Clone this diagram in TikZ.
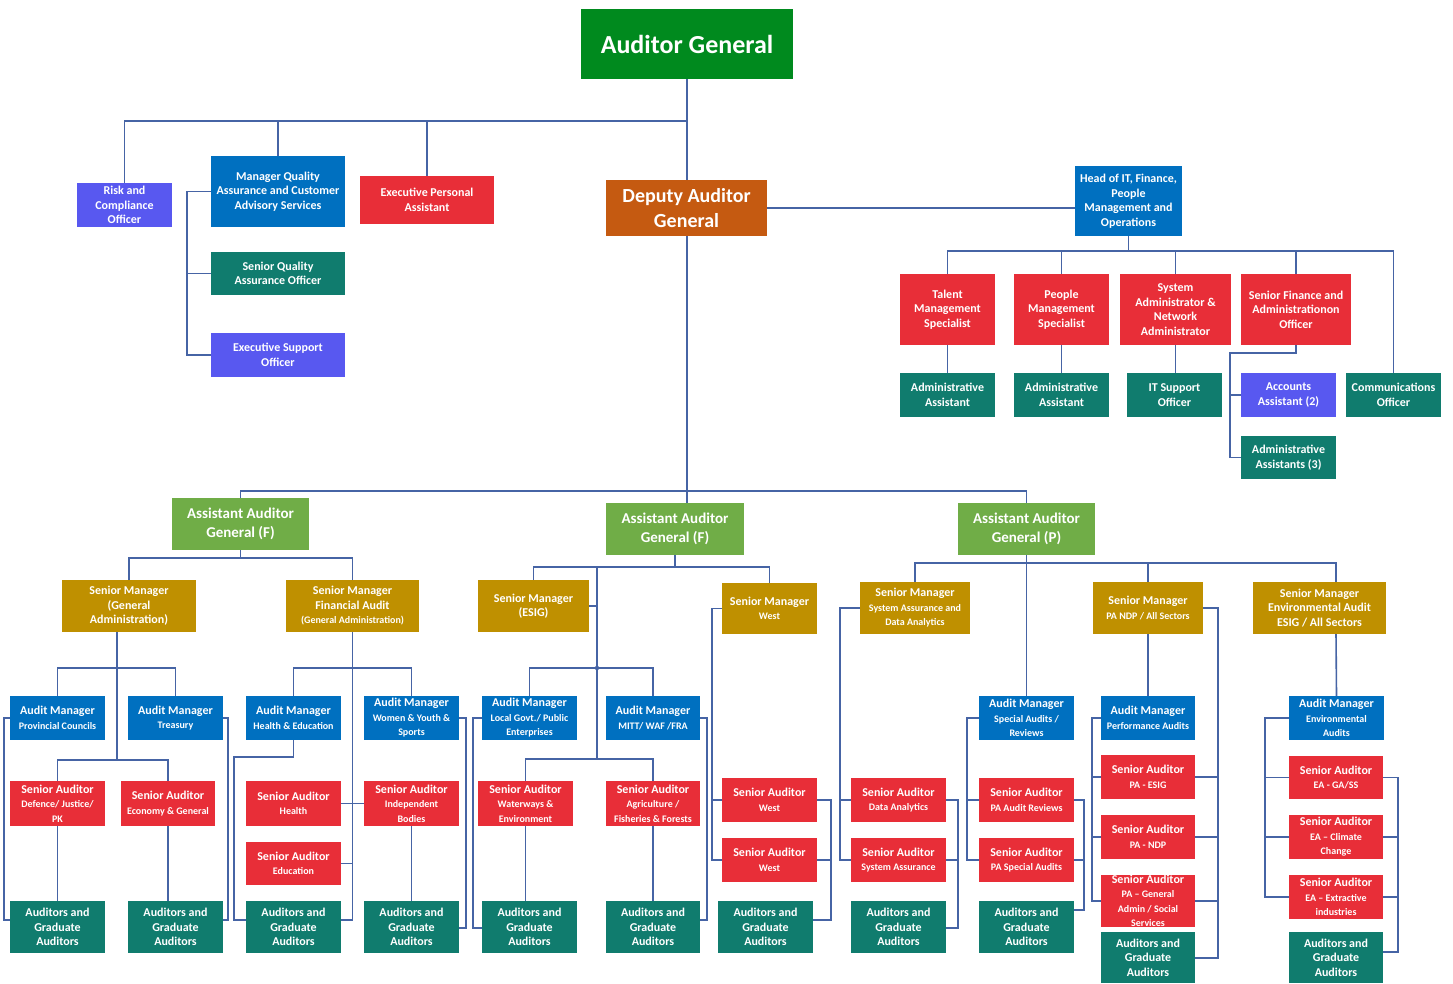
\documentclass[tikz,border=0pt]{standalone}
\usepackage{fontspec}
\setmainfont{Carlito}
\definecolor{cLine}{RGB}{70,100,165}
\definecolor{cAG}{RGB}{0,138,30}
\definecolor{cDAG}{RGB}{197,90,17}
\definecolor{cBlue}{RGB}{0,112,192}
\definecolor{cPurple}{RGB}{88,88,240}
\definecolor{cRed}{RGB}{232,46,56}
\definecolor{cTeal}{RGB}{16,124,110}
\definecolor{cLime}{RGB}{112,173,71}
\definecolor{cGold}{RGB}{191,144,0}
\newcommand{\sbt}{\fontsize{10}{13.5}\selectfont}
\newcommand{\orgbox}[7]{\node[#6, minimum width={(#4-#2)*1pt}, minimum height={(#5-#3)*1pt}] (#1) at ({(#2+#4)/2},{(#3+#5)/2}) {#7};}
\begin{document}
\begin{tikzpicture}[x=1pt,y=-1pt,
  conn/.style={draw=cLine,line width=1.6pt},
  box/.style={inner sep=0pt,outer sep=0pt,align=center,text=white,font=\bfseries\fontsize{12}{14.5}\selectfont},
  sGreen/.style={box,fill=cAG,font=\bfseries\fontsize{26}{30}\selectfont},
  sOrange/.style={box,fill=cDAG,font=\bfseries\fontsize{20}{25}\selectfont},
  sLime/.style={box,fill=cLime,font=\bfseries\fontsize{15}{19.5}\selectfont},
  sBlue/.style={box,fill=cBlue},
  sPurple/.style={box,fill=cPurple},
  sRed/.style={box,fill=cRed},
  sTeal/.style={box,fill=cTeal},
  sGold/.style={box,fill=cGold}]
\fill[white] (0,0) rectangle (1453,983);
\useasboundingbox (0,0) rectangle (1453,983);

% ---------- top ----------
\orgbox{AG}{581}{9}{793}{79}{sGreen}{Auditor General}
\orgbox{DAG}{606}{180}{767}{236}{sOrange}{Deputy Auditor\\General}
\orgbox{risk}{77}{183}{172}{227}{sPurple}{Risk and\\Compliance\\Officer}
\orgbox{mqa}{211}{156}{345}{227}{sBlue}{Manager Quality\\Assurance and Customer\\Advisory Services}
\orgbox{epa}{360}{176}{494}{224}{sRed}{Executive Personal\\Assistant}
\orgbox{sqao}{211}{252}{345}{295}{sTeal}{Senior Quality\\Assurance Officer}
\orgbox{eso}{211}{333}{345}{377}{sPurple}{Executive Support\\Officer}

\orgbox{head}{1075}{166}{1182}{236}{sBlue}{Head of IT, Finance,\\People\\Management and\\Operations}
\orgbox{talent}{900}{274}{995}{345}{sRed}{Talent\\Management\\Specialist}
\orgbox{people}{1014}{274}{1109}{345}{sRed}{People\\Management\\Specialist}
\orgbox{sysadm}{1120}{274}{1231}{345}{sRed}{System\\Administrator \&\\Network\\Administrator}
\orgbox{srfin}{1241}{274}{1351}{345}{sRed}{Senior Finance and\\Administrationon\\Officer}
\orgbox{adm1}{900}{373}{995}{417}{sTeal}{Administrative\\Assistant}
\orgbox{adm2}{1014}{373}{1109}{417}{sTeal}{Administrative\\Assistant}
\orgbox{itsup}{1127}{373}{1222}{417}{sTeal}{IT Support\\Officer}
\orgbox{acc}{1241}{373}{1336}{417}{sPurple}{Accounts\\Assistant (2)}
\orgbox{comm}{1346}{373}{1441}{417}{sTeal}{Communications\\Officer}
\orgbox{adm3}{1241}{436}{1336}{479}{sTeal}{Administrative\\Assistants (3)}

% ---------- AAG level ----------
\orgbox{aag1}{172}{498}{309}{550}{sLime}{Assistant Auditor\\General (F)}
\orgbox{aag2}{606}{503}{744}{555}{sLime}{Assistant Auditor\\General (F)}
\orgbox{aag3}{958}{503}{1095}{555}{sLime}{Assistant Auditor\\General (P)}

\orgbox{sm1}{62}{580}{196}{632}{sGold}{Senior Manager\\(General\\Administration)}
\orgbox{sm2}{286}{580}{419}{632}{sGold}{Senior Manager\\Financial Audit\\{\sbt (General Administration)}}
\orgbox{smesig}{478}{580}{589}{632}{sGold}{Senior Manager\\(ESIG)}
\orgbox{smwest}{722}{583}{817}{634}{sGold}{Senior Manager\\{\sbt West}}
\orgbox{smsys}{860}{582}{970}{634}{sGold}{Senior Manager\\{\sbt System Assurance and}\\{\sbt Data Analytics}}
\orgbox{smpa}{1093}{582}{1203}{634}{sGold}{Senior Manager\\{\sbt PA NDP / All Sectors}}
\orgbox{smenv}{1253}{582}{1386}{634}{sGold}{Senior Manager\\Environmental Audit\\ESIG / All Sectors}

% ---------- Audit managers ----------
\orgbox{am1}{10}{696}{105}{740}{sBlue}{Audit Manager\\{\sbt Provincial Councils}}
\orgbox{am2}{128}{696}{223}{740}{sBlue}{Audit Manager\\{\sbt Treasury}}
\orgbox{am3}{246}{696}{341}{740}{sBlue}{Audit Manager\\{\sbt Health \& Education}}
\orgbox{am4}{364}{696}{459}{740}{sBlue}{Audit Manager\\{\sbt Women \& Youth \&}\\{\sbt Sports}}
\orgbox{am5}{482}{696}{577}{740}{sBlue}{Audit Manager\\{\sbt Local Govt./ Public}\\{\sbt Enterprises}}
\orgbox{am6}{606}{696}{700}{740}{sBlue}{Audit Manager\\{\sbt MITT/ WAF /FRA}}
\orgbox{amspa}{979}{696}{1074}{740}{sBlue}{Audit Manager\\{\sbt Special Audits /}\\{\sbt Reviews}}
\orgbox{ampf}{1101}{696}{1195}{740}{sBlue}{Audit Manager\\{\sbt Performance Audits}}
\orgbox{amenv}{1289}{696}{1384}{740}{sBlue}{Audit Manager\\{\sbt Environmental}\\{\sbt Audits}}

% ---------- Senior auditors ----------
\orgbox{sa1}{10}{781}{105}{826}{sRed}{Senior Auditor\\{\sbt Defence/ Justice/}\\{\sbt PK}}
\orgbox{sa2}{121}{781}{215}{826}{sRed}{Senior Auditor\\{\sbt Economy \& General}}
\orgbox{sa3}{246}{781}{341}{826}{sRed}{Senior Auditor\\{\sbt Health}}
\orgbox{sa4}{246}{842}{341}{885}{sRed}{Senior Auditor\\{\sbt Education}}
\orgbox{sa5}{364}{781}{459}{826}{sRed}{Senior Auditor\\{\sbt Independent}\\{\sbt Bodies}}
\orgbox{sa6}{478}{781}{573}{826}{sRed}{Senior Auditor\\{\sbt Waterways \&}\\{\sbt Environment}}
\orgbox{sa7}{606}{781}{700}{826}{sRed}{Senior Auditor\\{\sbt Agriculture /}\\{\sbt Fisheries \& Forests}}
\orgbox{sa8}{722}{778}{817}{822}{sRed}{Senior Auditor\\{\sbt West}}
\orgbox{sa9}{722}{838}{817}{882}{sRed}{Senior Auditor\\{\sbt West}}
\orgbox{sa10}{851}{778}{946}{822}{sRed}{Senior Auditor\\{\sbt Data Analytics}}
\orgbox{sa11}{851}{838}{946}{882}{sRed}{Senior Auditor\\{\sbt System Assurance}}
\orgbox{sa12}{979}{778}{1074}{822}{sRed}{Senior Auditor\\{\sbt PA Audit Reviews}}
\orgbox{sa13}{979}{838}{1074}{882}{sRed}{Senior Auditor\\{\sbt PA Special Audits}}
\orgbox{sa14}{1101}{755}{1195}{799}{sRed}{Senior Auditor\\{\sbt PA - ESIG}}
\orgbox{sa15}{1101}{815}{1195}{859}{sRed}{Senior Auditor\\{\sbt PA - NDP}}
\orgbox{sa16}{1101}{875}{1195}{927}{sRed}{Senior Auditor\\{\sbt PA – General}\\{\sbt Admin / Social}\\{\sbt Services}}
\orgbox{sa17}{1289}{756}{1383}{799}{sRed}{Senior Auditor\\{\sbt EA - GA/SS}}
\orgbox{sa18}{1289}{815}{1383}{859}{sRed}{Senior Auditor\\{\sbt EA – Climate}\\{\sbt Change}}
\orgbox{sa19}{1289}{875}{1383}{919}{sRed}{Senior Auditor\\{\sbt EA – Extractive}\\{\sbt industries}}

% ---------- Auditors ----------
\orgbox{ag1}{10}{901}{105}{953}{sTeal}{Auditors and\\Graduate\\Auditors}
\orgbox{ag2}{128}{901}{223}{953}{sTeal}{Auditors and\\Graduate\\Auditors}
\orgbox{ag3}{246}{901}{341}{953}{sTeal}{Auditors and\\Graduate\\Auditors}
\orgbox{ag4}{364}{901}{459}{953}{sTeal}{Auditors and\\Graduate\\Auditors}
\orgbox{ag5}{482}{901}{577}{953}{sTeal}{Auditors and\\Graduate\\Auditors}
\orgbox{ag6}{606}{901}{700}{953}{sTeal}{Auditors and\\Graduate\\Auditors}
\orgbox{ag7}{718}{901}{813}{953}{sTeal}{Auditors and\\Graduate\\Auditors}
\orgbox{ag8}{851}{901}{946}{953}{sTeal}{Auditors and\\Graduate\\Auditors}
\orgbox{ag9}{979}{901}{1074}{953}{sTeal}{Auditors and\\Graduate\\Auditors}
\orgbox{ag10}{1101}{932}{1195}{983}{sTeal}{Auditors and\\Graduate\\Auditors}
\orgbox{ag11}{1289}{932}{1383}{983}{sTeal}{Auditors and\\Graduate\\Auditors}

% ---------- junction coordinates ----------
\coordinate (tj) at (687,121);
\coordinate (qx) at (187,196);
\coordinate (hj) at (1128.5,251);
\coordinate (fj) at (1230,353);
\coordinate (mj) at (687,491);
\coordinate (a1j) at (240.5,558);
\coordinate (s1a) at (117,668);
\coordinate (s1b) at (117,760);
\coordinate (b1) at (4,920);
\coordinate (b2) at (228,920);
\coordinate (s2a) at (352.5,668);
\coordinate (s2b) at (352.5,920);
\coordinate (h1) at (234,757);
\coordinate (h2) at (234,920);
\coordinate (b4) at (466,928);
\coordinate (a2j) at (675,567);
\coordinate (e1) at (597,567);
\coordinate (e2) at (597,668);
\coordinate (e3) at (597,759);
\coordinate (b5) at (473,928);
\coordinate (b6) at (707,920);
\coordinate (w2) at (712,860);
\coordinate (b7) at (831,920);
\coordinate (a3j) at (1026.5,563);
\coordinate (envx) at (1336,563);
\coordinate (y1) at (840,860);
\coordinate (y2) at (958,928);
\coordinate (z1) at (967,860);
\coordinate (z2) at (1084,910);
\coordinate (p1) at (1092,901);
\coordinate (p2) at (1218,958);
\coordinate (v1) at (1265,897);
\coordinate (v2) at (1398,952);

% ---------- connectors: top ----------
\draw[conn] (AG.south) -- (AG.south |- DAG.north);
\draw[conn] (risk.north) |- (tj);
\draw[conn] (mqa.north) -- (mqa.north |- tj);
\draw[conn] (epa.north) -- (epa.north |- tj);
\draw[conn] (mqa.west) -| (qx |- eso.west) -- (eso.west);
\draw[conn] (sqao.west) -- (sqao.west -| qx);
\draw[conn] (DAG.east) -- (DAG.east -| head.west);
\draw[conn] (head.south) -- (hj);
\draw[conn] (talent.north) |- (hj) -| (comm.north);
\draw[conn] (people.north) -- (people.north |- hj);
\draw[conn] (sysadm.north) -- (sysadm.north |- hj);
\draw[conn] (srfin.north) -- (srfin.north |- hj);
\draw[conn] (talent.south) -- (adm1.north);
\draw[conn] (people.south) -- (adm2.north);
\draw[conn] (sysadm.south) -- (sysadm.south |- itsup.north);
\draw[conn] (srfin.south) |- (fj) |- (adm3.west);
\draw[conn] (acc.west -| fj) -- (acc.west);

% ---------- connectors: AAG level ----------
\draw[conn] (AG.south |- DAG.south) -- (AG.south |- aag2.north);
\draw[conn] (aag1.north) |- (mj) -| (aag3.north);

% AAG1
\draw[conn] (aag1.south) -- (a1j);
\draw[conn] (sm1.north) |- (a1j) -| (sm2.north);
\draw[conn] (sm1.south -| s1a) -- (s1b);
\draw[conn] (am1.north) |- (s1a) -| (am2.north);
\draw[conn] (sa1.north) |- (s1b) -| (sa2.north);
\draw[conn] (sa1.south) -- (ag1.north);
\draw[conn] (sa2.south) -- (sa2.south |- ag2.north);
\draw[conn] (am1.west) -| (b1) -- (b1 -| ag1.west);
\draw[conn] (am2.east) -| (b2) -- (b2 -| ag2.east);
\draw[conn] (sm2.south) -- (s2b) -- (s2b -| ag3.east);
\draw[conn] (am3.north) |- (s2a) -| (am4.north);
\draw[conn] (sa3.east) -- (sa5.west);
\draw[conn] (sa4.east) -- (sa4.east -| s2a);
\draw[conn] (am3.south) |- (h1) -- (h2) -- (h2 -| ag3.west);
\draw[conn] (sa5.south) -- (ag4.north);
\draw[conn] (am4.east) -| (b4) -- (b4 -| ag4.east);

% AAG2
\draw[conn] (aag2.south) -- (a2j);
\draw[conn] (smesig.north) |- (a2j) -| (smwest.north);
\draw[conn] (e1) -- (e3);
\draw[conn] (smesig.east) -- (smesig.east -| e1);
\fill[cLine] (e2) circle (2.2);
\draw[conn] (am5.north) |- (e2) -| (am6.north);
\draw[conn] (sa6.north) |- (e3) -| (sa7.north);
\draw[conn] (sa6.south) -- (sa6.south |- ag5.north);
\draw[conn] (sa7.south) -- (ag6.north);
\draw[conn] (am5.west) -| (b5) -- (b5 -| ag5.west);
\draw[conn] (am6.east) -| (b6) -- (b6 -| ag6.east);
\draw[conn] (smwest.west) -| (w2) -- (w2 -| sa9.west);
\draw[conn] (sa8.west) -- (sa8.west -| w2);
\draw[conn] (sa8.east) -| (b7) -- (b7 -| ag7.east);
\draw[conn] (sa9.east) -- (sa9.east -| b7);

% AAG3
\draw[conn] (aag3.south) -- (amspa.north);
\draw[conn] (smsys.north) |- (envx) -- (envx |- smenv.north);
\draw[conn] (smpa.north) -- (smpa.north |- a3j);
\draw[conn] (envx |- smenv.south) -- (amenv.north);
\draw[conn] (smsys.west) -| (y1) -- (y1 -| sa11.west);
\draw[conn] (sa10.west) -- (sa10.west -| y1);
\draw[conn] (sa10.east) -| (y2) -- (y2 -| ag8.east);
\draw[conn] (sa11.east) -- (sa11.east -| y2);
\draw[conn] (amspa.west) -| (z1) -- (z1 -| sa13.west);
\draw[conn] (sa12.west) -- (sa12.west -| z1);
\draw[conn] (sa12.east) -| (z2) -- (z2 -| ag9.east);
\draw[conn] (sa13.east) -- (sa13.east -| z2);
\draw[conn] (smpa.south) -- (ampf.north);
\draw[conn] (ampf.west) -| (p1) -- (p1 -| sa16.west);
\draw[conn] (sa14.west) -- (sa14.west -| p1);
\draw[conn] (sa15.west) -- (sa15.west -| p1);
\draw[conn] (smpa.east) -| (p2) -- (p2 -| ag10.east);
\draw[conn] (sa14.east) -- (sa14.east -| p2);
\draw[conn] (sa15.east) -- (sa15.east -| p2);
\draw[conn] (sa16.east) -- (sa16.east -| p2);
\draw[conn] (amenv.west) -| (v1) -- (v1 -| sa19.west);
\draw[conn] (sa17.west) -- (sa17.west -| v1);
\draw[conn] (sa18.west) -- (sa18.west -| v1);
\draw[conn] (sa17.east) -| (v2) -- (v2 -| ag11.east);
\draw[conn] (sa18.east) -- (sa18.east -| v2);
\draw[conn] (sa19.east) -- (sa19.east -| v2);
\end{tikzpicture}
\end{document}
